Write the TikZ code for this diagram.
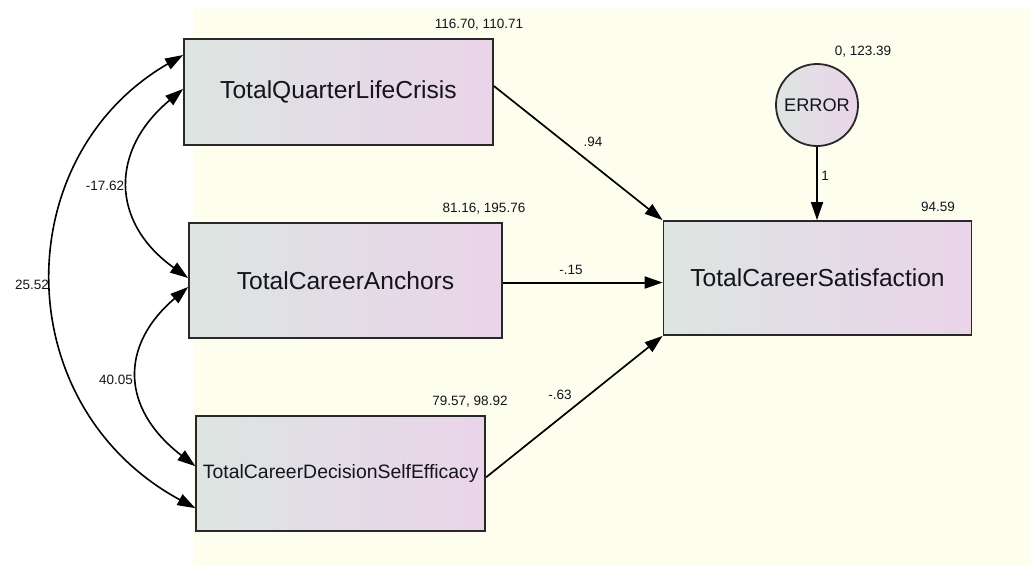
\documentclass[tikz,border=0pt]{standalone}
\usepackage{fontspec}
\setmainfont{Liberation Sans}
\usetikzlibrary{arrows.meta}
\definecolor{bg}{RGB}{254,254,239}
\definecolor{boxL}{RGB}{221,229,225}
\definecolor{boxR}{RGB}{234,212,234}
\definecolor{edge}{RGB}{40,40,40}
\definecolor{txt}{RGB}{20,20,30}
\begin{document}
\begin{tikzpicture}[x=1pt,y=-1pt,
  var/.style={draw=edge, line width=1.8pt, left color=boxL, right color=boxR, rectangle, inner sep=0pt, font=\fontsize{24.6}{28}\selectfont, text=txt},
  path/.style={-{Triangle[length=18pt,width=12pt]}, line width=1.7pt, draw=black},
  cov/.style={{Triangle[length=18pt,width=12pt]}-{Triangle[length=18pt,width=12pt]}, line width=1.6pt, draw=black},
  lab/.style={font=\fontsize{13.5}{16}\selectfont, inner sep=0pt, text=txt}]
\useasboundingbox (0,0) rectangle (1031,566);
\fill[bg] (193,7) rectangle (1031,566);

\node[var, minimum width=309pt, minimum height=106pt] (QLC) at (338.5,92) {TotalQuarterLifeCrisis};
\node[var, minimum width=313pt, minimum height=115pt] (ANC) at (345.5,280.5) {TotalCareerAnchors};
\node[var, minimum width=289pt, minimum height=115pt, font=\fontsize{19.4}{22}\selectfont] (DSE) at (340.8,473.2) {TotalCareerDecisionSelfEfficacy};
\node[var, minimum width=308pt, minimum height=114pt] (SAT) at (817.5,278) {TotalCareerSatisfaction};
\node[var, circle, minimum size=82pt, font=\fontsize{18.2}{20}\selectfont] (ERR) at (817,105) {ERROR};

\draw[path] ([yshift=6pt]QLC.east) -- (SAT.north west);
\draw[path, line width=2pt] ([yshift=-2pt]ANC.east) -- ([yshift=-2pt]ANC.east -| SAT.west);
\draw[path] ([yshift=-4pt]DSE.east) -- (SAT.south west);
\draw[path] (ERR.south) -- (ERR.south |- SAT.north);

\draw[cov] ([yshift=3pt]QLC.west) .. controls (110,150) and (110,222) .. ([yshift=2.5pt]ANC.west);
\draw[cov] ([yshift=37pt]QLC.west) .. controls (7,157) and (7,406) .. ([yshift=-35pt]DSE.west);
\draw[cov] ([yshift=-6.5pt]ANC.west) .. controls (120,345) and (120,408) .. ([yshift=7pt]DSE.west);

\node[lab] (l1) at (479,25) {116.70, 110.71};
\node[lab] (l2) at (484,209) {81.16, 195.76};
\node[lab] (l3) at (470,402) {79.57, 98.92};
\node[lab] (l4) at (863,52) {0, 123.39};
\node[lab] (l5) at (938,207) {94.59};
\node[lab] (l6) at (593,142) {.94};
\node[lab] (l7) at (825,176) {1};
\node[lab] (l8) at (571,270) {-.15};
\node[lab] (l9) at (560,395) {-.63};
\node[lab] (l10) at (105,186) {-17.62};
\node[lab] (l11) at (32,285) {25.52};
\node[lab] (l12) at (116,380) {40.05};
\end{tikzpicture}
\end{document}
